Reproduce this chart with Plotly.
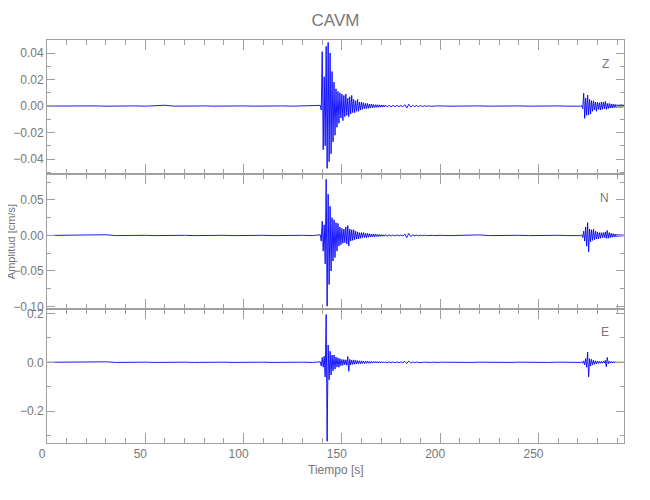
import numpy as np
import plotly.graph_objects as go
from plotly.subplots import make_subplots

# ---------------- data ----------------
# sampling of each segment: (start [s], step [s])
PRE = (0.0, 5.0)
MAIN = (139.0, 0.5)
CODA = (172.0, 1.0)
MID = (205.0, 5.0)
LATE = (271.0, 0.5)

# --- Z component [cm/s]
z_pre = [0.0000, 0.0001, -0.0001, 0.0001, -0.0001, 0.0001, -0.0001, 0.0001, -0.0001, 0.0001,
         -0.0001, 0.0001, 0.0006, -0.0001, 0.0001, -0.0001, 0.0001, -0.0001, 0.0001, -0.0001,
         0.0001, -0.0001, 0.0001, -0.0001, 0.0001, -0.0001, 0.0001, -0.0001]
z_main = [0.0005, -0.003, 0.041, -0.033, 0.022, -0.030, 0.045, -0.047, 0.048, -0.042,
          0.040, -0.036, 0.026, -0.027, 0.018, -0.022, 0.013, -0.016, 0.011, -0.013,
          0.010, -0.009, 0.009, -0.011, 0.008, -0.008, 0.009, -0.007, 0.006, -0.008,
          0.007, -0.006, 0.008, -0.005, 0.005, -0.005, 0.004, -0.004, 0.005, -0.004,
          0.003, -0.003, 0.003, -0.0025, 0.0025, -0.002, 0.002, -0.002, 0.002, -0.0018,
          0.0015, -0.0015, 0.0015, -0.0012, 0.0012, -0.0012, 0.001, -0.001, 0.001, -0.0009,
          0.0009, -0.0008, 0.0008, -0.0008, 0.0007, -0.0007]
z_coda = [0.0007, -0.0006, 0.0006, -0.0006, 0.0005, -0.0005, 0.0005, -0.0005, 0.0004, -0.0006,
          0.0010, -0.0015, 0.0014, -0.0008, 0.0005, -0.0004, 0.0004, -0.0004, 0.0003, -0.0003,
          0.0002, -0.0002, 0.0002, -0.0002, 0.0001, -0.0001, 0.0001, -0.0001, 0.0001]
z_mid = [-0.0001, 0.0001, -0.0001, 0.0001, -0.0001, 0.0001, -0.0001, 0.0001, -0.0001, 0.0001,
         -0.0001, 0.0001, -0.0001, 0.0001]
z_late = [0.0001, -0.0001, 0.0005, -0.002, 0.0096, -0.0093, 0.006, -0.007, 0.0083, -0.0068,
          0.005, -0.006, 0.004, -0.004, 0.004, -0.003, 0.003, -0.004, 0.003, -0.0025,
          0.0025, -0.003, 0.003, -0.0025, 0.003, -0.002, 0.0035, -0.0025, 0.002, -0.002,
          0.002, -0.0015, 0.0015, -0.0015, 0.0015, -0.0012, 0.0012, -0.0012, 0.001, -0.001,
          0.001, -0.0012, 0.0012, -0.001, 0.001, -0.0009, 0.0009]

# --- N component [cm/s]
n_pre = [0.0000, 0.0002, -0.0002, 0.0002, -0.0002, 0.0002, 0.0010, -0.0002, 0.0002, -0.0002,
         0.0002, -0.0002, 0.0002, -0.0002, 0.0002, -0.0002, 0.0002, -0.0002, 0.0002, -0.0002,
         0.0002, -0.0002, 0.0002, -0.0002, 0.0002, -0.0002, 0.0002, -0.0002]
n_main = [0.001, -0.008, 0.020, -0.022, 0.015, -0.040, 0.079, -0.0995, 0.058, -0.069,
          0.041, -0.050, 0.025, -0.036, 0.022, -0.031, 0.018, -0.022, 0.017, -0.015,
          0.012, -0.013, 0.010, -0.011, 0.009, -0.010, 0.012, -0.012, 0.014, -0.015,
          0.009, -0.008, 0.008, -0.007, 0.008, -0.006, 0.006, -0.005, 0.005, -0.005,
          0.004, -0.004, 0.004, -0.003, 0.004, -0.003, 0.003, -0.003, 0.003, -0.0025,
          0.0025, -0.002, 0.002, -0.002, 0.002, -0.002, 0.0018, -0.0015, 0.0015, -0.0015,
          0.0013, -0.0012, 0.0012, -0.0012, 0.001, -0.001]
n_coda = [0.001, -0.001, 0.0009, -0.0009, 0.0008, -0.0008, 0.0008, -0.0007, 0.0007, -0.0008,
          0.0020, -0.0030, 0.0028, -0.0015, 0.0008, -0.0006, 0.0005, -0.0004, 0.0004, -0.0003,
          0.0003, -0.0002, 0.0002, -0.0002, 0.0002, -0.0002, 0.0002, -0.0002, 0.0002]
n_mid = [-0.0002, 0.0002, -0.0002, 0.0008, -0.0002, 0.0002, -0.0002, 0.0002, -0.0002, 0.0002,
         -0.0002, 0.0002, -0.0002, 0.0002]
n_late = [0.0002, -0.0002, 0.001, -0.003, 0.006, -0.008, 0.012, -0.015, 0.018, -0.023,
          0.009, -0.009, 0.008, -0.007, 0.009, -0.006, 0.006, -0.005, 0.005, -0.005,
          0.004, -0.004, 0.004, -0.003, 0.004, -0.003, 0.005, -0.004, 0.007, -0.004,
          0.004, -0.003, 0.003, -0.0025, 0.0025, -0.002, 0.002, -0.002, 0.002, -0.0015,
          0.0015, -0.0015, 0.0015, -0.0012, 0.0012, -0.001, 0.001]

# --- E component [cm/s]
e_pre = [0.0000, 0.0005, -0.0005, 0.0005, -0.0005, 0.0005, 0.0020, -0.0005, 0.0005, -0.0005,
         0.0005, -0.0005, 0.0005, -0.0005, 0.0005, -0.0005, 0.0005, -0.0005, 0.0005, -0.0005,
         0.0005, -0.0005, 0.0005, -0.0005, 0.0005, -0.0005, 0.0005, -0.0005]
e_main = [0.002, -0.015, 0.020, -0.020, 0.025, -0.060, 0.196, -0.324, 0.071, -0.072,
          0.045, -0.052, 0.030, -0.035, 0.030, -0.028, 0.022, -0.020, 0.018, -0.020,
          0.015, -0.014, 0.012, -0.012, 0.011, -0.010, 0.010, -0.012, 0.024, -0.037,
          0.012, -0.010, 0.009, -0.009, 0.010, -0.008, 0.008, -0.007, 0.007, -0.006,
          0.006, -0.006, 0.006, -0.005, 0.005, -0.005, 0.005, -0.004, 0.004, -0.004,
          0.004, -0.004, 0.004, -0.003, 0.003, -0.003, 0.003, -0.003, 0.003, -0.003,
          0.003, -0.0025, 0.0025, -0.0025, 0.0025, -0.002]
e_coda = [0.002, -0.002, 0.002, -0.002, 0.0018, -0.0018, 0.0015, -0.0015, 0.0015, -0.0015,
          0.004, -0.005, 0.005, -0.003, 0.0015, -0.0012, 0.0010, -0.0008, 0.0008, -0.0006,
          0.0006, -0.0005, 0.0005, -0.0005, 0.0005, -0.0005, 0.0005, -0.0005, 0.0005]
e_mid = [-0.0005, 0.0005, -0.0005, 0.0005, -0.0005, 0.0005, -0.0005, 0.0005, -0.0005, 0.0005,
         -0.0005, 0.0005, -0.0005, 0.0005]
e_late = [0.0005, -0.0005, 0.002, -0.004, 0.006, -0.010, 0.015, -0.020, 0.042, -0.060,
          0.015, -0.015, 0.012, -0.010, 0.008, -0.008, 0.006, -0.006, 0.005, -0.005,
          0.004, -0.004, 0.004, -0.004, 0.004, -0.003, 0.008, -0.018, 0.020, -0.006,
          0.004, -0.003, 0.003, -0.003, 0.003, -0.0025, 0.0025, -0.002, 0.002, -0.002,
          0.002, -0.002, 0.002, -0.0015, 0.0015, -0.0015, 0.0015]

components = ["Z", "N", "E"]
y_ranges = [[-0.0515, 0.0498], [-0.103, 0.086], [-0.331, 0.22]]
y_dticks = [0.02, 0.05, 0.2]
y_formats = [".2f", ".2f", ".1f"]
x_range = [0, 293.5]
x_title = "Tiempo [s]"
y_title = "Amplitud [cm/s]"
title = "CAVM"

segments = {
    "Z": [z_pre, z_main, z_coda, z_mid, z_late],
    "N": [n_pre, n_main, n_coda, n_mid, n_late],
    "E": [e_pre, e_main, e_coda, e_mid, e_late],
}
grids = [PRE, MAIN, CODA, MID, LATE]


def build(comp):
    ts, vs = [], []
    for (start, step), vals in zip(grids, segments[comp]):
        ts.extend(start + step * np.arange(len(vals)))
        vs.extend(vals)
    return ts, vs


# ---------------- figure ----------------
FONT = "Liberation Sans, Arial, sans-serif"
TXT = "#777777"
AX = "#a0a0a0"
FS = 12

fig = make_subplots(rows=3, cols=1, shared_xaxes=True, vertical_spacing=0)

for i, comp in enumerate(components):
    t, v = build(comp)
    fig.add_trace(
        go.Scatter(x=t, y=v, mode="lines",
                   line=dict(color="rgba(0,0,255,0.9)", width=1.0),
                   showlegend=False, hoverinfo="skip"),
        row=i + 1, col=1,
    )
    fig.update_yaxes(
        range=y_ranges[i], dtick=y_dticks[i], tickformat=y_formats[i],
        minor=dict(dtick=y_dticks[i] / 2, ticks="inside", ticklen=4, tickcolor=AX),
        row=i + 1, col=1,
    )
    fig.add_annotation(
        text=comp, xref="x domain" if i == 0 else f"x{i+1} domain",
        yref="y domain" if i == 0 else f"y{i+1} domain",
        x=0.977, y=0.89, showarrow=False,
        font=dict(family=FONT, size=FS, color=TXT),
    )

fig.update_xaxes(
    range=x_range, dtick=50, showline=True, linecolor=AX, linewidth=1,
    mirror="allticks", ticks="inside", ticklen=10, tickcolor=AX,
    minor=dict(dtick=10, ticks="inside", ticklen=5, tickcolor=AX),
    showgrid=False, zeroline=False, automargin=False,
    ticklabelshift=-5,
    tickfont=dict(family=FONT, size=FS, color=TXT),
)
fig.update_yaxes(
    showline=True, linecolor=AX, linewidth=1, mirror="allticks",
    ticks="inside", ticklen=8, tickcolor=AX, showgrid=False, zeroline=False,
    automargin=False, ticklabelstandoff=0,
    tickfont=dict(family=FONT, size=FS, color=TXT),
)

fig.add_annotation(
    text=y_title, xref="paper", yref="paper", x=-0.063, y=0.5,
    textangle=-90, showarrow=False, xanchor="center", yanchor="middle",
    font=dict(family=FONT, size=11, color=TXT),
)
fig.add_annotation(
    text=x_title, xref="paper", yref="paper", x=0.5, y=-0.067,
    showarrow=False, xanchor="center", yanchor="middle",
    font=dict(family=FONT, size=FS, color=TXT),
)

# the page adds a small body margin, so margins are reduced accordingly
fig.update_layout(
    width=650, height=500,
    margin=dict(l=39, r=34, t=32, b=65, autoexpand=False),
    paper_bgcolor="white", plot_bgcolor="white",
    title=dict(text=title, x=(39 + 577 / 2) / 650, xanchor="center",
               y=0.976, yanchor="middle",
               font=dict(family=FONT, size=17, color=TXT)),
)

fig.write_html("out.html")
